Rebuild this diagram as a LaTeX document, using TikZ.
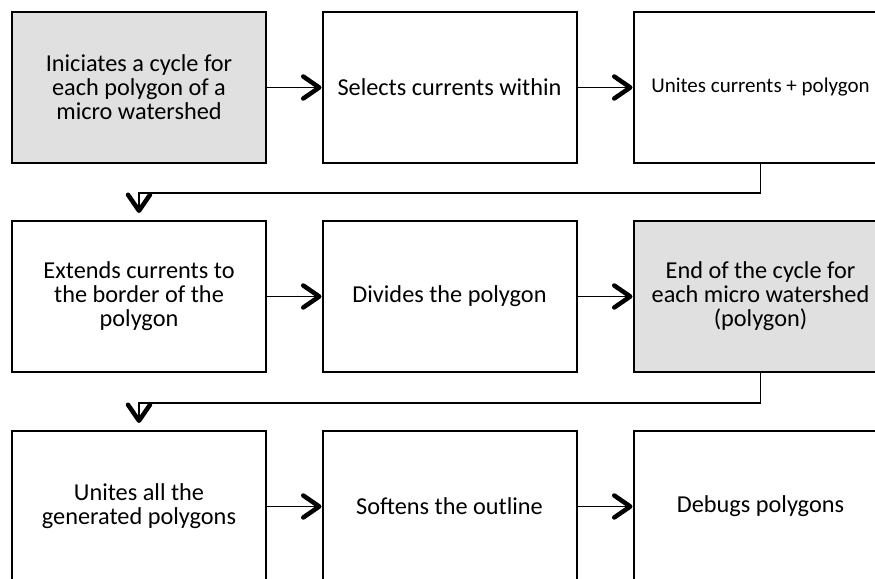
\documentclass[tikz,border=0pt]{standalone}
\usepackage{fontspec}
\setmainfont{Carlito}
\usetikzlibrary{arrows.meta}

\begin{document}
\begin{tikzpicture}[x=1pt,y=1pt]

\definecolor{stepgray}{RGB}{224, 224, 224}

% Page frame
\useasboundingbox (0,0) rectangle (875,578);
\clip (0,0) rectangle (875,578);

\tikzset{
    stepbox/.style={
        draw=black, line width=2pt, fill=#1,
        rectangle, minimum width=254pt, minimum height=151pt,
        font=\fontsize{24.3}{24}\selectfont, align=center, inner sep=0pt
    },
    stepbox/.default=white,
    flow/.style={
        draw=black, line width=1.8pt,
        -{Straight Barb[length=16pt, width=22pt, line width=4.5pt, round]}
    }
}

% FIRST ROW
\node[stepbox=stepgray] (init) at (139, 490.5) {Iniciates a cycle for\\each polygon of a\\micro watershed};
\node[stepbox] (select) at (449.5, 490.5) {Selects currents within};
\node[stepbox] (unite) at (760.5, 490.5) {\fontsize{21}{24}\selectfont Unites currents + polygon};

% SECOND ROW
\node[stepbox] (extend) at (139, 281.5) {Extends currents to\\the border of the\\polygon};
\node[stepbox] (divide) at (449.5, 281.5) {Divides the polygon};
\node[stepbox=stepgray] (cycleend) at (760.5, 281.5) {End of the cycle for\\each micro watershed\\(polygon)};

% THIRD ROW
\node[stepbox] (uniteall) at (139, 71.5) {Unites all the\\generated polygons};
\node[stepbox] (soften) at (449.5, 71.5) {Softens the outline};
\node[stepbox] (debug) at (760.5, 71.5) {Debugs polygons};

% --- CONNECTIONS ---
\draw[flow] (init) -- (select);
\draw[flow] (select) -- (unite);
\draw[flow, shorten >=7pt] (unite.south) -- ++(0,-29) -| (extend.north);

\draw[flow] (extend) -- (divide);
\draw[flow] (divide) -- (cycleend);
\draw[flow, shorten >=7pt] (cycleend.south) -- ++(0,-30) -| (uniteall.north);

\draw[flow] (uniteall) -- (soften);
\draw[flow] (soften) -- (debug);

\end{tikzpicture}
\end{document}
